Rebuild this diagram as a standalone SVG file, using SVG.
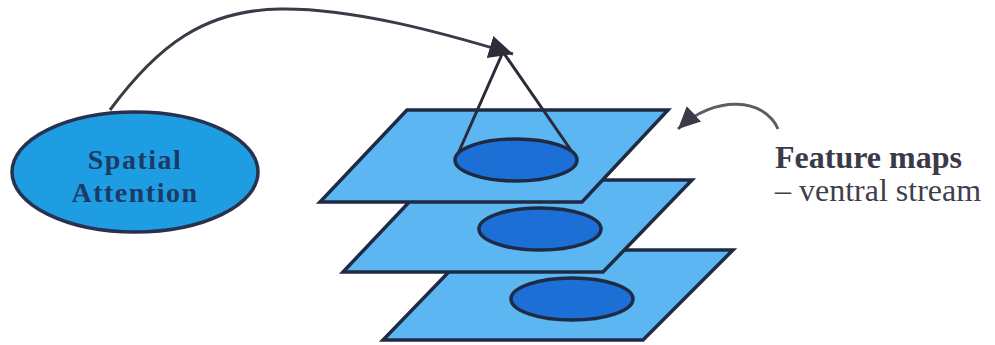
<svg xmlns="http://www.w3.org/2000/svg" width="995" height="345" viewBox="0 0 995 345">
<style>
.plane{fill:#5bb6f2;stroke:#1f2a44;stroke-width:3.5;stroke-linejoin:miter}
.spot{fill:#1c6fd4;stroke:#1f2a44;stroke-width:3.5}
.cone{stroke:#2a2a3a;stroke-width:3;fill:none}
.att{fill:#1f9de2;stroke:#26324e;stroke-width:3.5}
.lbl{font-family:"Liberation Serif","Times New Roman",serif;font-size:32px}
.alb{font-family:"Liberation Serif","Times New Roman",serif;font-size:28px;font-weight:bold;letter-spacing:1.5px;fill:#1b3a66}
.conn{fill:none;stroke-width:3}
</style>
<defs>
<marker id="ah" markerUnits="userSpaceOnUse" markerWidth="26" markerHeight="24" refX="24" refY="11.5" orient="auto">
<path d="M0,0 L24,11.5 L0,23 z" fill="#2e2e3a"/>
</marker>
<marker id="ah2" markerUnits="userSpaceOnUse" markerWidth="24" markerHeight="22" refX="22" refY="10.5" orient="auto">
<path d="M0,0 L22,10.5 L0,21 z" fill="#3a3a48"/>
</marker>
</defs>
<rect width="995" height="345" fill="#ffffff"/>
<g id="attention">
<ellipse class="att" cx="135" cy="172" rx="123" ry="60"/>
<text class="alb" x="135" y="169" text-anchor="middle">Spatial</text>
<text class="alb" x="135" y="202" text-anchor="middle">Attention</text>
</g>
<g id="map3">
<polygon class="plane" points="470,250 733,250 643,340 383,340"/>
<ellipse class="spot" cx="572" cy="299" rx="61" ry="21"/>
</g>
<g id="map2">
<polygon class="plane" points="430,180 692,180 603,272 343,272"/>
<ellipse class="spot" cx="540" cy="229" rx="61" ry="21"/>
</g>
<g id="map1">
<polygon class="plane" points="407,110 668,110 582,202 320,202"/>
<line class="cone" x1="503" y1="52" x2="457" y2="156"/>
<line class="cone" x1="503" y1="52" x2="575" y2="156"/>
<ellipse class="spot" cx="516" cy="160" rx="61" ry="21"/>
</g>
<g id="label">
<text class="lbl" x="775" y="168" font-weight="bold" fill="#3a3a48">Feature maps</text>
<text class="lbl" x="775" y="201" fill="#3f3f4c">– ventral stream</text>
</g>
<g id="connectors">
<path class="conn" stroke="#3b3b47" d="M110,110 C158,45 205,10 280,9 C352,8 440,32 513,54" marker-end="url(#ah)"/>
<path class="conn" stroke="#5d5d68" d="M778,129 C765,98 715,94 678,129" marker-end="url(#ah2)"/>
</g>
</svg>
